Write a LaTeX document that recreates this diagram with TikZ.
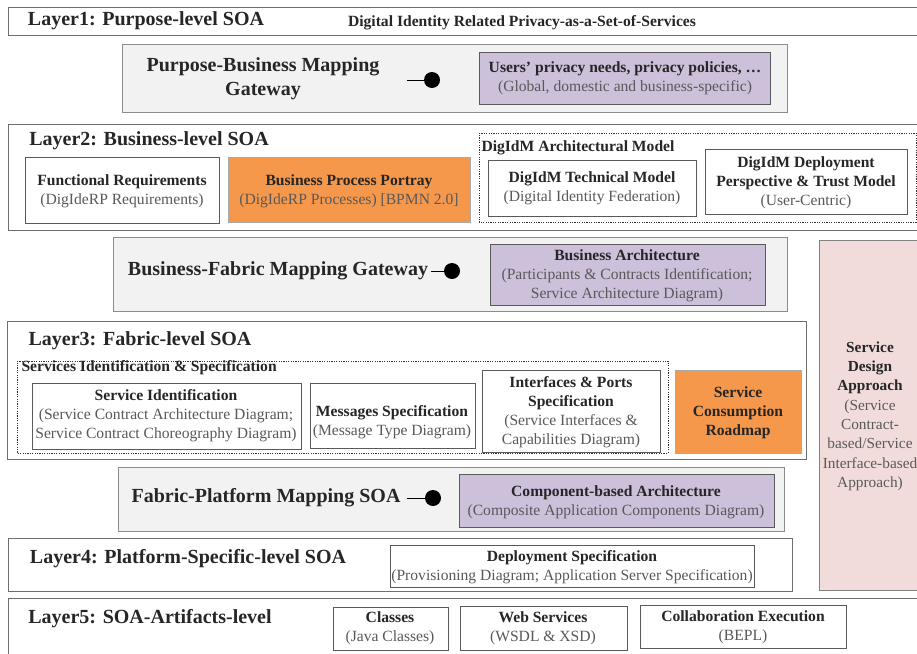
\documentclass[tikz,border=0pt]{standalone}
\usepackage{fontspec}
\setmainfont{Liberation Serif}
\definecolor{subgray}{RGB}{89,89,89}

\tikzset{every picture/.style={line width=0.75pt}}
\tikzset{
  layerbox/.style={draw={rgb, 255:red, 110; green, 110; blue, 110 }, fill=white},
  gatebox/.style={draw={rgb, 255:red, 140; green, 140; blue, 140 }, fill={rgb, 255:red, 242; green, 242; blue, 242 }},
  purplebox/.style={draw={rgb, 255:red, 90; green, 90; blue, 90 }, fill={rgb, 255:red, 204; green, 192; blue, 218 }},
  orangebox/.style={draw={rgb, 255:red, 170; green, 170; blue, 170 }, fill={rgb, 255:red, 245; green, 152; blue, 75 }},
  whitebox/.style={draw={rgb, 255:red, 90; green, 90; blue, 90 }, fill=white},
  dotbox/.style={draw={rgb, 255:red, 50; green, 50; blue, 50 }, dash pattern={on 0.9pt off 0.9pt}},
  pinkbox/.style={draw={rgb, 255:red, 130; green, 130; blue, 130 }, fill={rgb, 255:red, 242; green, 220; blue, 219 }},
  ttl/.style={inner sep=0.75pt, align=center, font=\fontsize{15}{18}\selectfont\bfseries, text={rgb, 255:red, 38; green, 38; blue, 38 }},
  txt/.style={inner sep=0.75pt, align=center, font=\fontsize{11.7}{14.3}\selectfont, text={rgb, 255:red, 38; green, 38; blue, 38 }},
  lolly/.style={circle, fill=black, inner sep=0pt, minimum size=12pt}
}

\begin{document}
\begin{tikzpicture}[x=0.75pt,y=0.75pt,yscale=-1,xscale=1]
\useasboundingbox (0,0) rectangle (917,653);
\clip (0,0) rectangle (917,653);

%Shape: Rectangle [id:layer1]
\draw [layerbox] (8,7) -- (922,7) -- (922,35) -- (8,35) -- cycle ;
%Shape: Rectangle [id:gateway1]
\draw [gatebox] (122,44) -- (787,44) -- (787,112) -- (122,112) -- cycle ;
%Shape: Rectangle [id:purple1]
\draw [purplebox] (479,52) -- (770,52) -- (770,104) -- (479,104) -- cycle ;
%Shape: Rectangle [id:layer2]
\draw [layerbox] (8,124) -- (922,124) -- (922,230) -- (8,230) -- cycle ;
%Shape: Rectangle [id:funcreq]
\draw [whitebox] (25,157) -- (219,157) -- (219,223) -- (25,223) -- cycle ;
%Shape: Rectangle [id:bpp]
\draw [orangebox] (228,157) -- (470,157) -- (470,222) -- (228,222) -- cycle ;
%Shape: Rectangle [id:archmodel]
\draw [dotbox] (479,133) -- (916,133) -- (916,222) -- (479,222) -- cycle ;
%Shape: Rectangle [id:techmodel]
\draw [whitebox] (488,160) -- (696,160) -- (696,216) -- (488,216) -- cycle ;
%Shape: Rectangle [id:deploymodel]
\draw [whitebox] (705,149) -- (907,149) -- (907,214) -- (705,214) -- cycle ;
%Shape: Rectangle [id:gateway2]
\draw [gatebox] (113,237) -- (787,237) -- (787,311) -- (113,311) -- cycle ;
%Shape: Rectangle [id:purple2]
\draw [purplebox] (490,244) -- (765,244) -- (765,305) -- (490,305) -- cycle ;
%Shape: Rectangle [id:pink]
\draw [pinkbox] (819,240) -- (922,240) -- (922,590) -- (819,590) -- cycle ;
%Shape: Rectangle [id:layer3]
\draw [layerbox] (7,321) -- (806,321) -- (806,459) -- (7,459) -- cycle ;
%Shape: Rectangle [id:servspec]
\draw [dotbox] (17,361) -- (668,361) -- (668,453) -- (17,453) -- cycle ;
%Shape: Rectangle [id:servident]
\draw [whitebox] (32,383) -- (301,383) -- (301,449) -- (32,449) -- cycle ;
%Shape: Rectangle [id:msgspec]
\draw [whitebox] (310,383) -- (475,383) -- (475,448) -- (310,448) -- cycle ;
%Shape: Rectangle [id:ifports]
\draw [whitebox] (482,370) -- (660,370) -- (660,452) -- (482,452) -- cycle ;
%Shape: Rectangle [id:roadmap]
\draw [orangebox] (675,370) -- (801,370) -- (801,453) -- (675,453) -- cycle ;
%Shape: Rectangle [id:gateway3]
\draw [gatebox] (118,467) -- (784,467) -- (784,531) -- (118,531) -- cycle ;
%Shape: Rectangle [id:purple3]
\draw [purplebox] (459,474) -- (774,474) -- (774,527) -- (459,527) -- cycle ;
%Shape: Rectangle [id:layer4]
\draw [layerbox] (8,538) -- (792,538) -- (792,591) -- (8,591) -- cycle ;
%Shape: Rectangle [id:deployspec]
\draw [whitebox] (390,545) -- (754,545) -- (754,587) -- (390,587) -- cycle ;
%Shape: Rectangle [id:layer5]
\draw [layerbox] (8,598) -- (922,598) -- (922,660) -- (8,660) -- cycle ;
%Shape: Rectangle [id:classes]
\draw [whitebox] (333,607) -- (448,607) -- (448,650) -- (333,650) -- cycle ;
%Shape: Rectangle [id:websrv]
\draw [whitebox] (460,606) -- (627,606) -- (627,650) -- (460,650) -- cycle ;
%Shape: Rectangle [id:collab]
\draw [whitebox] (640,605) -- (846,605) -- (846,648) -- (640,648) -- cycle ;

% Text Node
\draw (146,21) node (lay1) [ttl] {Layer1: Purpose-level SOA};
% Text Node
\draw (522,23) node (digid) [txt] {\bfseries Digital Identity Related Privacy-as-a-Set-of-Services};
% Text Node
\draw (263,79) node (gw1) [ttl, font=\fontsize{15}{18}\selectfont\bfseries] {Purpose-Business Mapping\\Gateway};
% Text Node
\draw (625,78) node (needs) [txt] {\textbf{Users' privacy needs, privacy policies, \dots}\\\color{subgray}(Global, domestic and business-specific)};
% Text Node
\draw (149,141) node (lay2) [ttl] {Layer2: Business-level SOA};
% Text Node
\draw (122,191) node (freq) [txt] {\textbf{Functional Requirements}\\\color{subgray}(DigIdeRP Requirements)};
% Text Node
\draw (349,191) node (bpp) [txt] {\textbf{Business Process Portray}\\\color{subgray}(DigIdeRP Processes) [BPMN 2.0]};
% Text Node
\draw (480,148) node (arch) [txt, anchor=west] {\bfseries DigIdM Architectural Model};
% Text Node
\draw (592,188) node (tech) [txt] {\textbf{DigIdM Technical Model}\\\color{subgray}(Digital Identity Federation)};
% Text Node
\draw (806,183) node (deploy) [txt] {\textbf{DigIdM Deployment}\\\textbf{Perspective \& Trust Model}\\\color{subgray}(User-Centric)};
% Text Node
\draw (278,271) node (gw2) [ttl] {Business-Fabric Mapping Gateway};
% Text Node
\draw (627,276) node (busarch) [txt] {\textbf{Business Architecture}\\\color{subgray}(Participants \& Contracts Identification;\\\color{subgray}Service Architecture Diagram)};
% Text Node
\draw (140,341) node (lay3) [ttl] {Layer3: Fabric-level SOA};
% Text Node
\draw (20,368) node (sis) [txt, anchor=west] {\bfseries Services Identification \& Specification};
% Text Node
\draw (166,416) node (sident) [txt] {\textbf{Service Identification}\\\color{subgray}(Service Contract Architecture Diagram;\\\color{subgray}Service Contract Choreography Diagram)};
% Text Node
\draw (392,422) node (msg) [txt] {\textbf{Messages Specification}\\\color{subgray}(Message Type Diagram)};
% Text Node
\draw (571,412) node (ifp) [txt] {\textbf{Interfaces \& Ports}\\\textbf{Specification}\\\color{subgray}(Service Interfaces \&\\\color{subgray}Capabilities Diagram)};
% Text Node
\draw (738,413) node (road) [txt] {\bfseries Service\\\bfseries Consumption\\\bfseries Roadmap};
% Text Node
\draw (870,416) node (sda) [txt, font=\fontsize{11.5}{14.5}\selectfont] {\textbf{Service}\\\textbf{Design}\\\textbf{Approach}\\\color{subgray}(Service\\\color{subgray}Contract-\\\color{subgray}based/Service\\\color{subgray}Interface-based\\\color{subgray}Approach)};
% Text Node
\draw (266,498) node (gw3) [ttl] {Fabric-Platform Mapping SOA};
% Text Node
\draw (616,502) node (comp) [txt] {\textbf{Component-based Architecture}\\\color{subgray}(Composite Application Components Diagram)};
% Text Node
\draw (188,559) node (lay4) [ttl] {Layer4: Platform-Specific-level SOA};
% Text Node
\draw (572,567) node (dspec) [txt] {\textbf{Deployment Specification}\\\color{subgray}(Provisioning Diagram; Application Server Specification)};
% Text Node
\draw (150,619) node (lay5) [ttl] {Layer5: SOA-Artifacts-level};
% Text Node
\draw (390,628) node (cls) [txt] {\textbf{Classes}\\\color{subgray}(Java Classes)};
% Text Node
\draw (543,628) node (ws) [txt] {\textbf{Web Services}\\\color{subgray}(WSDL \& XSD)};
% Text Node
\draw (743,627) node (bepl) [txt] {\textbf{Collaboration Execution}\\\color{subgray}(BEPL)};

%Lollipops
\coordinate (stub1) at (407,80);
\node (dot1) [lolly] at (432,80) {};
\draw (stub1) -- (dot1);
\coordinate (stub2) at (431,271);
\node (dot2) [lolly] at (452,271) {};
\draw (stub2) -- (dot2);
\coordinate (stub3) at (407,498);
\node (dot3) [lolly] at (433,498) {};
\draw (stub3) -- (dot3);

\end{tikzpicture}
\end{document}
